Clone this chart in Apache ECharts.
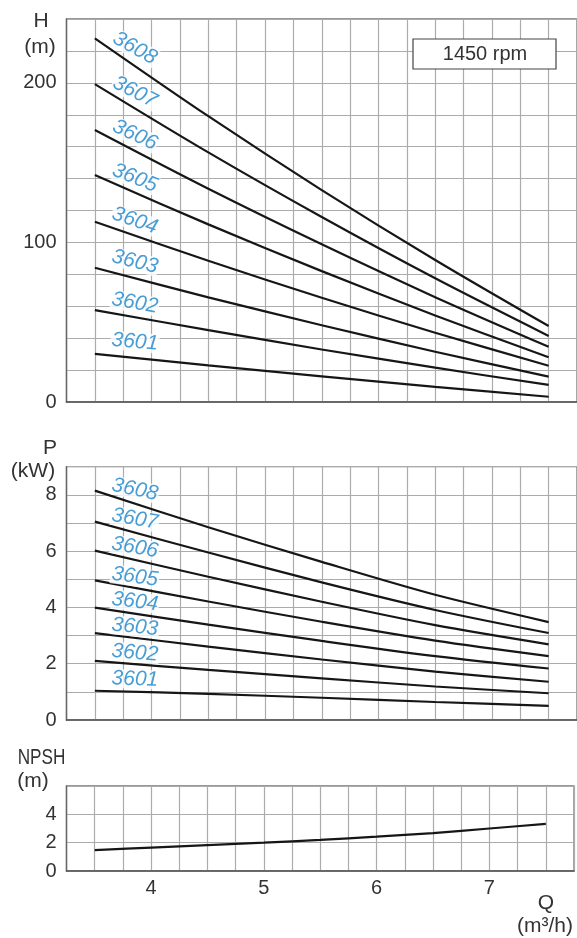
<!DOCTYPE html>
<html>
<head>
<meta charset="utf-8">
<script src="https://cdn.jsdelivr.net/npm/echarts@6/dist/echarts.min.js"></script>
<style>
html,body{margin:0;padding:0;background:#fff;}
#chart{width:577px;height:938px;}
</style>
</head>
<body>
<div id="chart"></div>
<script>
// ---------- data ----------
const models = ['3601','3602','3603','3604','3605','3606','3607','3608'];
const flowQ = [3.5, 4.5, 5.5, 6.5, 7.5];

const head3601 = [30.1, 23.0, 16.1, 9.5, 3.3];
const head3602 = [57.6, 45.0, 32.9, 21.5, 10.7];
const head3603 = [84.1, 65.6, 48.1, 31.5, 15.9];
const head3604 = [113.0, 88.5, 65.3, 43.4, 22.7];
const head3605 = [142.2, 111.3, 82.0, 54.2, 28.0];
const head3606 = [170.4, 133.6, 98.8, 65.7, 34.6];
const head3607 = [199.2, 156.4, 115.9, 77.5, 41.4];
const head3608 = [227.9, 179.1, 132.8, 89.0, 47.6];

const power3601 = [1.04, 0.93, 0.79, 0.64, 0.50];
const power3602 = [2.10, 1.78, 1.48, 1.19, 0.95];
const power3603 = [3.09, 2.61, 2.15, 1.72, 1.36];
const power3604 = [3.99, 3.39, 2.81, 2.27, 1.83];
const power3605 = [4.96, 4.21, 3.49, 2.82, 2.27];
const power3606 = [6.02, 5.09, 4.20, 3.37, 2.69];
const power3607 = [7.05, 5.95, 4.89, 3.91, 3.09];
const power3608 = [8.15, 6.85, 5.62, 4.45, 3.48];

const npshQ = [3.5, 4.0, 4.5, 5.0, 5.5, 6.0, 6.5, 7.0, 7.5];
const npshValues = [1.48, 1.65, 1.82, 2.0, 2.2, 2.42, 2.68, 3.0, 3.33];

const headTicks = [0, 100, 200];
const powerTicks = [0, 2, 4, 6, 8];
const npshTicks = [0, 2, 4];
const flowTicks = [4, 5, 6, 7];

// ---------- styles ----------
const heads = [head3601, head3602, head3603, head3604, head3605, head3606, head3607, head3608];
const powers = [power3601, power3602, power3603, power3604, power3605, power3606, power3607, power3608];
const FONT = 'Liberation Sans, Arial, sans-serif';
const GRIDC = '#ababab';
const BLUE = '#1c84ca';
const headLabelDy = [-12, -7, -6, -1, 3, 5, 8, 10];
const headLabelRot = [5, 10, 14, 19, 22, 25, 27, 29];
const powerLabelDy = [-11.5, -8, -6, -6, -3.5, -3, -2.5, -1];
const powerLabelRot = [2, 5, 6, 7, 8, 10, 10, 12];
const LABEL_DX = 40;

const X_LEFT = 66.5, PX_PER_Q = 114;
const gridW = 4.5 * PX_PER_Q;

function grid(top, height) {
  return {left: X_LEFT, top: top, width: gridW, height: height, show: true,
          borderColor: '#777', borderWidth: 1.3, backgroundColor: 'transparent'};
}
function xAxis(idx, showLabels) {
  return {
    type: 'value', gridIndex: idx, min: 3.25, max: 7.75, interval: 0.25,
    axisLine: {show: true, lineStyle: {color: '#555', width: 1.5}},
    axisTick: {show: false},
    splitLine: {show: true, lineStyle: {color: GRIDC, width: 1.2}},
    axisLabel: {
      show: showLabels, color: '#333', fontFamily: FONT, fontSize: 20, margin: 7,
      formatter: v => flowTicks.indexOf(Math.round(v * 100) / 100) >= 0 ? String(v) : ''
    }
  };
}
function yAxis(idx, max, interval, ticks) {
  return {
    type: 'value', gridIndex: idx, min: 0, max: max, interval: interval,
    axisLine: {show: true, lineStyle: {color: '#666', width: 1.3}},
    axisTick: {show: false},
    splitLine: {show: true, lineStyle: {color: GRIDC, width: 1.2}},
    axisLabel: {
      color: '#333', fontFamily: FONT, fontSize: 20, margin: 10,
      formatter: v => ticks.indexOf(v) >= 0 ? String(v) : ''
    }
  };
}

const series = [];
heads.forEach((arr) => {
  series.push({
    type: 'line', xAxisIndex: 0, yAxisIndex: 0, smooth: 0.3, symbol: 'none',
    lineStyle: {color: '#161616', width: 2.2},
    data: flowQ.map((q, j) => [q, arr[j]]), z: 3
  });
});
powers.forEach((arr) => {
  series.push({
    type: 'line', xAxisIndex: 1, yAxisIndex: 1, smooth: 0.3, symbol: 'none',
    lineStyle: {color: '#161616', width: 2.2},
    data: flowQ.map((q, j) => [q, arr[j]]), z: 3
  });
});
series.push({
  type: 'line', xAxisIndex: 2, yAxisIndex: 2, smooth: 0.3, symbol: 'none',
  lineStyle: {color: '#161616', width: 2.2},
  data: npshQ.map((q, j) => [q, npshValues[j]]), z: 3
});

// label offsets are given in screen space; ECharts rotates the offset with the label,
// so counter-rotate it here.
function screenOffset(dx, dy, rotDeg) {
  const t = rotDeg * Math.PI / 180; // clockwise angle on screen
  return [dx * Math.cos(t) + dy * Math.sin(t), -dx * Math.sin(t) + dy * Math.cos(t)];
}

function labelSeries(xi, arrs, dys, rots) {
  return {
    type: 'scatter', xAxisIndex: xi, yAxisIndex: xi, symbolSize: 0.1,
    itemStyle: {color: 'transparent'}, silent: true, z: 5,
    data: arrs.map((arr, i) => ({
      value: [flowQ[0], arr[0]], name: models[i],
      label: {show: true, position: 'inside', formatter: models[i],
              offset: screenOffset(LABEL_DX, dys[i], rots[i]), rotate: -rots[i],
              color: BLUE, fontFamily: FONT, fontSize: 21, fontStyle: 'italic',
              align: 'center', verticalAlign: 'middle',
              backgroundColor: '#fff', padding: [-1, 1]}
    }))
  };
}
series.push(labelSeries(0, heads, headLabelDy, headLabelRot));
series.push(labelSeries(1, powers, powerLabelDy, powerLabelRot));

function txt(x, y, s, size, extra) {
  return Object.assign({type: 'text', x: x, y: y, style: {
    text: s, fill: '#333', font: size + 'px ' + FONT, align: 'center', verticalAlign: 'middle'}}, extra || {});
}

const option = {
  animation: false,
  backgroundColor: '#fff',
  grid: [grid(19, 383), grid(466.7, 253.3), grid(786, 85)],
  xAxis: [xAxis(0, false), xAxis(1, false), xAxis(2, true)],
  yAxis: [yAxis(0, 240, 20, headTicks), yAxis(1, 9, 1, powerTicks), yAxis(2, 6, 2, npshTicks)],
  series: series,
  graphic: [
    txt(41, 21, 'H', 21),
    txt(40, 47, '(m)', 21),
    txt(50, 448, 'P', 21),
    txt(33, 471, '(kW)', 21),
    txt(34, 758, 'NPSH', 22, {scaleX: 0.78, originX: 34, originY: 758}),
    txt(33, 781, '(m)', 21),
    txt(546, 903, 'Q', 21),
    txt(545, 926, '(m\u00B3/h)', 21),
    {type: 'rect', shape: {x: 413, y: 39, width: 143, height: 30},
     style: {fill: '#fff', stroke: '#444', lineWidth: 1.2}, z: 10},
    Object.assign(txt(485, 54.5, '1450 rpm', 20), {z: 11})
  ]
};

const chart = echarts.init(document.getElementById('chart'), null, {renderer: 'canvas'});
chart.setOption(option);
</script>
</body>
</html>
